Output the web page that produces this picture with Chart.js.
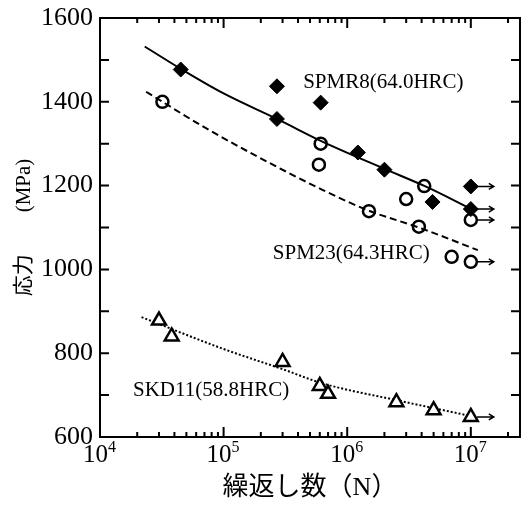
<!DOCTYPE html>
<html>
<head>
<meta charset="utf-8">
<script src="https://cdn.jsdelivr.net/npm/chart.js@4/dist/chart.umd.min.js"></script>
<style>
    html, body { margin: 0; padding: 0; background: #fff; }
</style>
</head>
<body>
<canvas id="grafico-sn" width="521" height="506"></canvas>
<script>
// ---- valori ----
// SPMR8 (rombi pieni)
var spmr8N = [4.5e4, 2.7e5, 6.1e5, 2.7e5, 1.22e6, 2.0e6, 4.9e6, 1.0e7, 1.0e7];
var spmr8S = [1477, 1437, 1398, 1359, 1279, 1238, 1161, 1198, 1144];
var spmr8Runout = [false, false, false, false, false, false, false, true, true];

// SPM23 (cerchi vuoti)
var spm23N = [3.2e4, 6.1e5, 5.9e5, 1.5e6, 3.0e6, 4.2e6, 3.8e6, 1.0e7, 7.0e6, 1.0e7];
var spm23S = [1400, 1300, 1250, 1139, 1168, 1199, 1102, 1118, 1030, 1018];
var spm23Runout = [false, false, false, false, false, false, false, true, false, true];

// SKD11 (triangoli vuoti)
var skd11N = [3.0e4, 3.8e4, 3.0e5, 6.0e5, 7.0e5, 2.5e6, 5.0e6, 1.0e7];
var skd11S = [878, 840, 779, 722, 703, 683, 664, 648];
var skd11Runout = [false, false, false, false, false, false, false, true];

// curve di regressione
var fitMr8N = [2.3e4, 4.6e4, 1.0e5, 2.75e5, 6.3e5, 2.0e6, 4.3e6, 9.8e6];
var fitMr8S = [1532, 1477, 1420, 1358, 1305, 1240, 1198, 1146];
var fit23N = [2.36e4, 7.2e4, 1.86e5, 6.3e5, 1.5e6, 3.8e6, 1.14e7];
var fit23S = [1424, 1337, 1270, 1190, 1140, 1100, 1046];
var fitKdN = [2.17e4, 1.0e5, 3.0e5, 6.3e5, 2.5e6, 1.04e7];
var fitKdS = [886, 810, 762, 728, 688, 649];

// etichette
var etichetteTesto = ['SPMR8(64.0HRC)', 'SPM23(64.3HRC)', 'SKD11(58.8HRC)'];
var etichetteN = [4.4e5, 2.5e5, 1.85e4];
var etichetteS = [1447, 1039, 710];

// assi
var xDecadi = [1e4, 1e5, 1e6, 1e7];
var xEsponenti = ['4', '5', '6', '7'];
var xMultipli = [2, 3, 4, 5, 6, 7, 8, 9];
var xMin = 1e4, xMax = 2.5e7;
var yMin = 600, yMax = 1600, yPasso = 100, yPassoEtichette = 200;

var fontSerif = "'Liberation Serif', 'Noto Sans CJK JP', serif";

function punti(xs, ys) {
    return xs.map(function (v, i) { return {x: v, y: ys[i]}; });
}

function tickX() {
    var t = [];
    xDecadi.forEach(function (d) {
        t.push({value: d});
        xMultipli.forEach(function (m) {
            if (d * m <= xMax) t.push({value: d * m});
        });
    });
    return t;
}

var serieRunout = [
    {n: spmr8N, s: spmr8S, r: spmr8Runout},
    {n: spm23N, s: spm23S, r: spm23Runout},
    {n: skd11N, s: skd11S, r: skd11Runout}
];

var pluginAssi = {
    id: 'assi',
    afterDatasetsDraw: function (chart) {
        var ctx = chart.ctx;
        var sx = chart.scales.x, sy = chart.scales.y;
        ctx.save();
        ctx.strokeStyle = '#000';
        ctx.fillStyle = '#000';
        ctx.lineWidth = 1.5;
        // frecce run-out
        serieRunout.forEach(function (serie) {
            serie.r.forEach(function (flag, i) {
                if (!flag) return;
                var px = sx.getPixelForValue(serie.n[i]);
                var py = sy.getPixelForValue(serie.s[i]);
                ctx.beginPath();
                ctx.moveTo(px + 6, py);
                ctx.lineTo(px + 23, py);
                ctx.moveTo(px + 18, py - 3);
                ctx.lineTo(px + 23, py);
                ctx.lineTo(px + 18, py + 3);
                ctx.stroke();
            });
        });
        // testi
        ctx.font = '21px ' + fontSerif;
        ctx.textAlign = 'left';
        ctx.textBaseline = 'middle';
        etichetteTesto.forEach(function (t, i) {
            ctx.fillText(t, sx.getPixelForValue(etichetteN[i]), sy.getPixelForValue(etichetteS[i]));
        });
        ctx.restore();
    },
    afterDraw: function (chart) {
        var ctx = chart.ctx;
        var a = chart.chartArea;
        var sx = chart.scales.x, sy = chart.scales.y;
        ctx.save();
        ctx.strokeStyle = '#000';
        ctx.fillStyle = '#000';
        ctx.lineWidth = 2;
        ctx.beginPath();
        sx.ticks.forEach(function (t) {
            var px = sx.getPixelForValue(t.value);
            var len = xDecadi.indexOf(t.value) >= 0 ? 10 : 5;
            ctx.moveTo(px, a.bottom);
            ctx.lineTo(px, a.bottom - len);
            ctx.moveTo(px, a.top);
            ctx.lineTo(px, a.top + len);
        });
        sy.ticks.forEach(function (t) {
            var py = sy.getPixelForValue(t.value);
            ctx.moveTo(a.left, py);
            ctx.lineTo(a.left + 9, py);
            ctx.moveTo(a.right, py);
            ctx.lineTo(a.right - 9, py);
        });
        ctx.stroke();
        ctx.strokeRect(a.left, a.top, a.right - a.left, a.bottom - a.top);
        // etichette 10^n con esponente
        ctx.textBaseline = 'alphabetic';
        xDecadi.forEach(function (d, i) {
            var px = sx.getPixelForValue(d);
            ctx.font = '25px ' + fontSerif;
            ctx.textAlign = 'right';
            ctx.fillText('10', px + 8, a.bottom + 25);
            ctx.font = '16px ' + fontSerif;
            ctx.textAlign = 'left';
            ctx.fillText(xEsponenti[i], px + 8, a.bottom + 15);
        });
        ctx.restore();
    }
};

Chart.defaults.font.family = fontSerif;
Chart.defaults.color = '#000';

var ctx = document.getElementById('grafico-sn');
var chart = new Chart(ctx, {
    type: 'scatter',
    data: {
        datasets: [{
            label: 'SPMR8',
            data: punti(spmr8N, spmr8S),
            pointStyle: 'rectRot',
            pointRadius: 7.5,
            backgroundColor: '#000',
            borderColor: '#000',
            borderWidth: 1,
            order: 1
        },
        {
            label: 'SPM23',
            data: punti(spm23N, spm23S),
            pointStyle: 'circle',
            pointRadius: 6,
            backgroundColor: 'rgba(0,0,0,0)',
            borderColor: '#000',
            borderWidth: 2.5,
            order: 1
        },
        {
            label: 'SKD11',
            data: punti(skd11N, skd11S),
            pointStyle: 'triangle',
            pointRadius: 8,
            backgroundColor: '#fff',
            borderColor: '#000',
            borderWidth: 2.5,
            order: 1
        },
        {
            label: 'fit SPMR8',
            data: punti(fitMr8N, fitMr8S),
            showLine: true,
            pointRadius: 0,
            borderColor: '#000',
            borderWidth: 2,
            cubicInterpolationMode: 'monotone',
            order: 2
        },
        {
            label: 'fit SPM23',
            data: punti(fit23N, fit23S),
            showLine: true,
            pointRadius: 0,
            borderColor: '#000',
            borderWidth: 2,
            borderDash: [7, 4],
            cubicInterpolationMode: 'monotone',
            order: 2
        },
        {
            label: 'fit SKD11',
            data: punti(fitKdN, fitKdS),
            showLine: true,
            pointRadius: 0,
            borderColor: '#000',
            borderWidth: 2,
            borderDash: [2, 2],
            cubicInterpolationMode: 'monotone',
            order: 2
        }]
    },
    options: {
        responsive: false,
        animation: false,
        devicePixelRatio: 1,
        layout: {
            autoPadding: false,
            padding: { top: 18, right: 1, left: 0, bottom: 0 }
        },
        plugins: {
            legend: { display: false },
            tooltip: { enabled: false }
        },
        scales: {
            x: {
                type: 'logarithmic',
                min: xMin,
                max: xMax,
                afterBuildTicks: function (scale) { scale.ticks = tickX(); },
                afterFit: function (scale) {
                    scale.height = 69;
                    scale.paddingLeft = 0;
                    scale.paddingRight = 0;
                },
                grid: { display: false, drawTicks: false },
                border: { display: false },
                ticks: {
                    autoSkip: false,
                    maxRotation: 0,
                    callback: function () { return ''; }
                },
                title: {
                    display: true,
                    text: '繰返し数（N）',
                    font: { size: 26 },
                    padding: { top: 0, bottom: 2 }
                }
            },
            y: {
                min: yMin,
                max: yMax,
                afterFit: function (scale) {
                    scale.width = 100;
                    scale.paddingTop = 0;
                    scale.paddingBottom = 0;
                },
                grid: { display: false, drawTicks: false },
                border: { display: false },
                ticks: {
                    stepSize: yPasso,
                    padding: 7,
                    font: { size: 26 },
                    callback: function (value) {
                        return value % yPassoEtichette === 0 ? value : '';
                    }
                },
                title: {
                    display: true,
                    text: '応力　　(MPa)',
                    font: { size: 21 },
                    padding: { top: 12, bottom: 0 }
                }
            }
        }
    },
    plugins: [pluginAssi]
});
</script>
</body>
</html>
